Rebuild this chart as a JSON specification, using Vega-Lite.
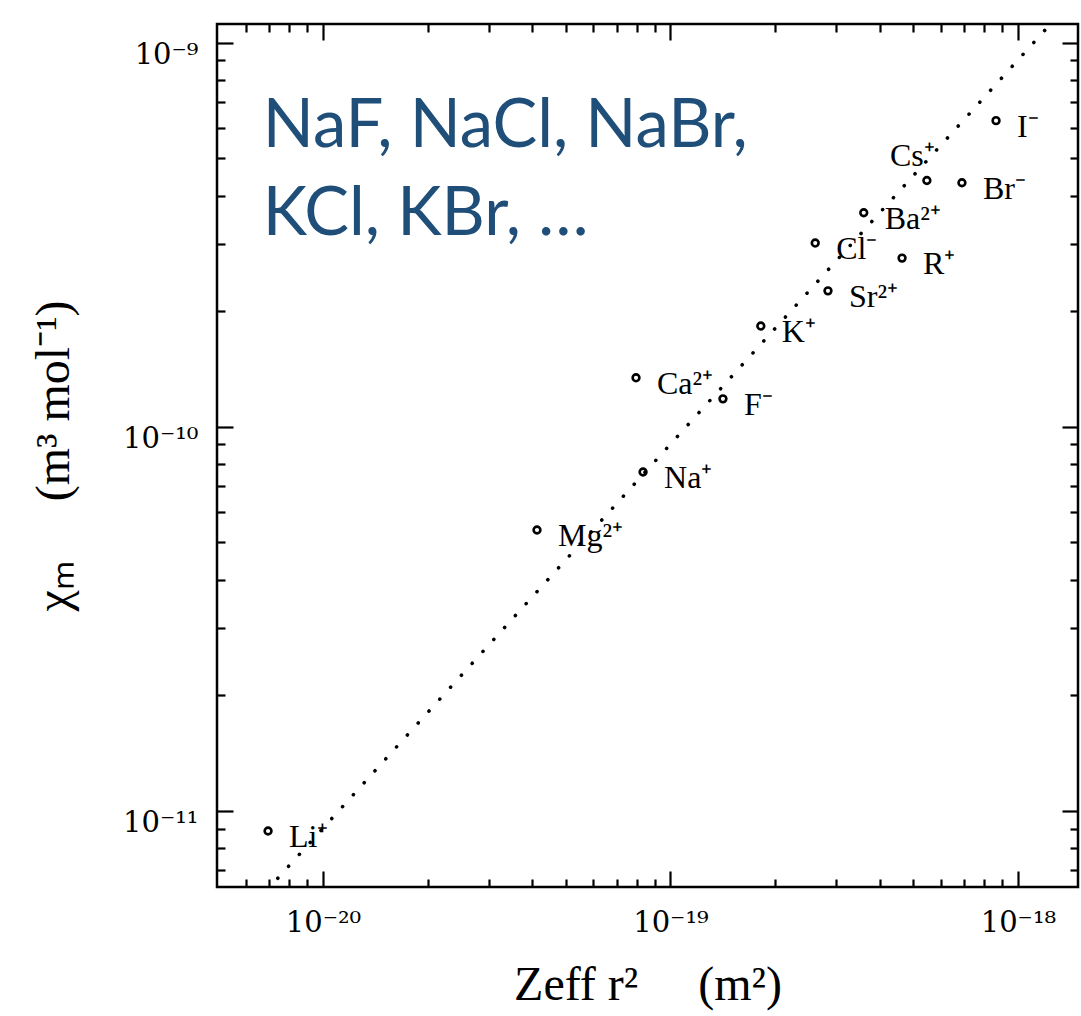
{
  "$schema": "https://vega.github.io/schema/vega-lite/v6.json",
  "width": 861,
  "height": 863,
  "autosize": {"type": "none"},
  "padding": {"left": 217, "top": 24, "right": 3, "bottom": 129},
  "background": "white",
  "config": {
    "view": {"stroke": "black", "strokeWidth": 2.5},
    "axis": {
      "grid": false,
      "domain": false,
      "tickColor": "black",
      "tickWidth": 2.2,
      "labelFont": "DejaVu Serif",
      "titleFont": "Liberation Serif",
      "labelColor": "black",
      "titleColor": "black",
      "titleFontWeight": "normal"
    }
  },
  "datasets": {
    "ions": [
      {"ion": "Li⁺", "zr2": 6.95e-21, "chi": 8.87e-12},
      {"ion": "Mg²⁺", "zr2": 4.13e-20, "chi": 5.39e-11},
      {"ion": "Na⁺", "zr2": 8.34e-20, "chi": 7.63e-11},
      {"ion": "Ca²⁺", "zr2": 7.96e-20, "chi": 1.342e-10},
      {"ion": "F⁻", "zr2": 1.416e-19, "chi": 1.183e-10},
      {"ion": "K⁺", "zr2": 1.82e-19, "chi": 1.83e-10},
      {"ion": "Sr²⁺", "zr2": 2.84e-19, "chi": 2.26e-10},
      {"ion": "Cl⁻", "zr2": 2.61e-19, "chi": 3.01e-10},
      {"ion": "Ba²⁺", "zr2": 3.6e-19, "chi": 3.61e-10},
      {"ion": "R⁺", "zr2": 4.64e-19, "chi": 2.75e-10},
      {"ion": "Cs⁺", "zr2": 5.47e-19, "chi": 4.38e-10},
      {"ion": "Br⁻", "zr2": 6.9e-19, "chi": 4.32e-10},
      {"ion": "I⁻", "zr2": 8.65e-19, "chi": 6.27e-10}
    ],
    "fit": [
      {"zr2": 6.9e-21, "chi": 6.22e-12},
      {"zr2": 1.3e-18, "chi": 1.172e-9}
    ],
    "note": [
      {"zr2": 6.71e-21, "chi": 5.36e-10, "text": "NaF, NaCl, NaBr,\nKCl, KBr, …"}
    ]
  },
  "resolve": {"axis": {"x": "independent", "y": "independent"}},
  "layer": [
    {
      "data": {"name": "fit"},
      "mark": {"type": "line", "clip": true, "color": "black", "strokeWidth": 3.6, "strokeDash": [0.1, 16], "strokeCap": "round"},
      "encoding": {
        "x": {
          "field": "zr2", "type": "quantitative",
          "scale": {"type": "log", "domain": [4.955e-21, 1.489e-18], "nice": false},
          "axis": {
            "orient": "bottom",
            "values": [1e-20, 1e-19, 1e-18],
            "tickSize": -16,
            "labelFontSize": 29,
            "labelPadding": 37,
            "labelExpr": "datum.value < 5e-20 ? '10⁻²⁰' : datum.value < 5e-19 ? '10⁻¹⁹' : '10⁻¹⁸'",
            "title": "Zeff r²\u2003 (m²)",
            "titleFontSize": 48,
            "titlePadding": 24
          }
        },
        "y": {
          "field": "chi", "type": "quantitative",
          "scale": {"type": "log", "domain": [6.34e-12, 1.119e-9], "nice": false},
          "axis": {
            "orient": "left",
            "values": [1e-11, 1e-10, 1e-9],
            "tickSize": -16,
            "labelFontSize": 29,
            "labelPadding": 35,
            "labelBaseline": "alphabetic",
            "labelOffset": 21,
            "labelExpr": "datum.value < 5e-11 ? '10⁻¹¹' : datum.value < 5e-10 ? '10⁻¹⁰' : '10⁻⁹'",
            "title": "χₘ\u2003 (m³ mol⁻¹)",
            "titleFontSize": 48,
            "titlePadding": 44
          }
        }
      }
    },
    {
      "data": {"name": "ions"},
      "mark": {"type": "point", "shape": "circle", "filled": false, "size": 46, "strokeWidth": 2.6, "color": "black", "opacity": 1},
      "encoding": {
        "x": {
          "field": "zr2", "type": "quantitative",
          "scale": {"type": "log", "domain": [4.955e-21, 1.489e-18], "nice": false},
          "axis": {"orient": "top", "values": [1e-20, 1e-19, 1e-18], "tickSize": -16, "labels": false, "title": null}
        },
        "y": {
          "field": "chi", "type": "quantitative",
          "scale": {"type": "log", "domain": [6.34e-12, 1.119e-9], "nice": false},
          "axis": {"orient": "right", "values": [1e-11, 1e-10, 1e-9], "tickSize": -16, "labels": false, "title": null}
        }
      }
    },
    {
      "data": {"name": "ions"},
      "transform": [{"filter": "datum.ion != 'Cs⁺'"}],
      "mark": {"type": "text", "font": "Liberation Serif", "fontSize": 32, "align": "left", "baseline": "alphabetic", "dx": 21, "dy": 16, "color": "black"},
      "encoding": {
        "text": {"field": "ion"},
        "x": {
          "field": "zr2", "type": "quantitative",
          "scale": {"type": "log", "domain": [4.955e-21, 1.489e-18], "nice": false},
          "axis": {"orient": "bottom", "values": [6e-21, 7e-21, 8e-21, 9e-21, 2e-20, 3e-20, 4e-20, 5e-20, 6e-20, 7e-20, 8e-20, 9e-20, 2e-19, 3e-19, 4e-19, 5e-19, 6e-19, 7e-19, 8e-19, 9e-19], "tickSize": -8, "labels": false, "title": null}
        },
        "y": {
          "field": "chi", "type": "quantitative",
          "scale": {"type": "log", "domain": [6.34e-12, 1.119e-9], "nice": false},
          "axis": {"orient": "left", "values": [7e-12, 8e-12, 9e-12, 2e-11, 3e-11, 4e-11, 5e-11, 6e-11, 7e-11, 8e-11, 9e-11, 2e-10, 3e-10, 4e-10, 5e-10, 6e-10, 7e-10, 8e-10, 9e-10], "tickSize": -8, "labels": false, "title": null}
        }
      }
    },
    {
      "data": {"name": "ions"},
      "transform": [{"filter": "datum.ion == 'Cs⁺'"}],
      "mark": {"type": "text", "font": "Liberation Serif", "fontSize": 32, "align": "left", "baseline": "alphabetic", "dx": -37, "dy": -14, "color": "black"},
      "encoding": {
        "text": {"field": "ion"},
        "x": {
          "field": "zr2", "type": "quantitative",
          "scale": {"type": "log", "domain": [4.955e-21, 1.489e-18], "nice": false},
          "axis": {"orient": "top", "values": [6e-21, 7e-21, 8e-21, 9e-21, 2e-20, 3e-20, 4e-20, 5e-20, 6e-20, 7e-20, 8e-20, 9e-20, 2e-19, 3e-19, 4e-19, 5e-19, 6e-19, 7e-19, 8e-19, 9e-19], "tickSize": -8, "labels": false, "title": null}
        },
        "y": {
          "field": "chi", "type": "quantitative",
          "scale": {"type": "log", "domain": [6.34e-12, 1.119e-9], "nice": false},
          "axis": {"orient": "right", "values": [7e-12, 8e-12, 9e-12, 2e-11, 3e-11, 4e-11, 5e-11, 6e-11, 7e-11, 8e-11, 9e-11, 2e-10, 3e-10, 4e-10, 5e-10, 6e-10, 7e-10, 8e-10, 9e-10], "tickSize": -8, "labels": false, "title": null}
        }
      }
    },
    {
      "data": {"name": "note"},
      "mark": {"type": "text", "font": "Lato", "fontSize": 67, "align": "left", "baseline": "alphabetic", "lineBreak": "\n", "lineHeight": 88, "color": "#1F4E79"},
      "encoding": {
        "text": {"field": "text"},
        "x": {
          "field": "zr2", "type": "quantitative",
          "scale": {"type": "log", "domain": [4.955e-21, 1.489e-18], "nice": false},
          "axis": null
        },
        "y": {
          "field": "chi", "type": "quantitative",
          "scale": {"type": "log", "domain": [6.34e-12, 1.119e-9], "nice": false},
          "axis": null
        }
      }
    }
  ]
}
